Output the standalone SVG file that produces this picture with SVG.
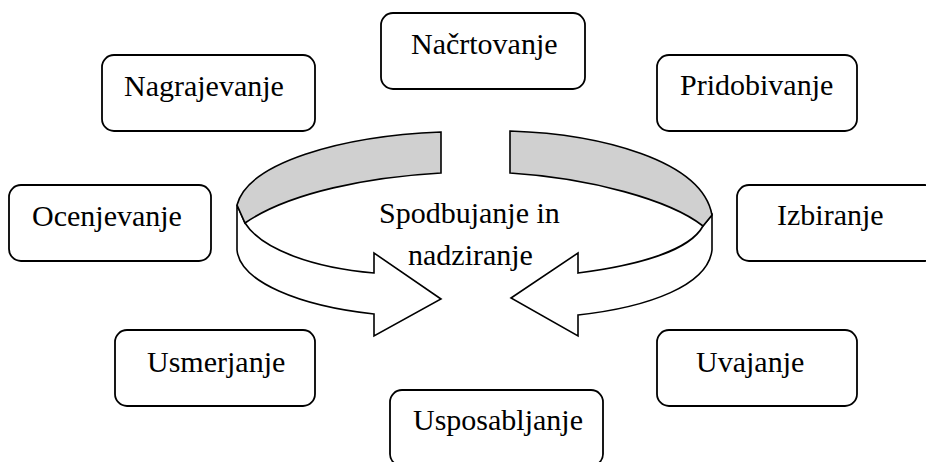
<svg xmlns="http://www.w3.org/2000/svg" width="926" height="462" viewBox="0 0 926 462">
<style>
.box{fill:#fff;stroke:#000;stroke-width:1.8}
.t{font-family:"Liberation Serif","Times New Roman",serif;font-size:30px;fill:#000}
.face{fill:#d0d0d0;stroke:#000;stroke-width:1.6;stroke-linejoin:miter}
.side{fill:#fff;stroke:#000;stroke-width:1.6;stroke-linejoin:miter}
</style>
<rect width="926" height="462" fill="#fff"/>
<g id="connectors">
<g id="arrow-left">
<path class="side" d="M237,205 L237,250 C240,282 300,306 374,314 L374,336 L441,299 L374,253 L374,273 C315,268 262,250 245,223 Z"/>
<path class="face" d="M441,132 C340,136 248,163 237,205 L245,223 C290,192 370,177 441,173 Z"/>
</g>
<g id="arrow-right">
<path class="side" d="M712,215 L712,250 C708,285 650,307 578,315 L578,336 L511,298 L578,253 L578,273 C640,265 690,250 703,226 Z"/>
<path class="face" d="M510,131 C600,134 702,160 712,215 L703,226 C670,200 590,178 510,173 Z"/>
</g>
</g>
<g id="center">
<text class="t" x="379" y="223">Spodbujanje in</text>
<text class="t" x="408" y="265">nadziranje</text>
</g>
<g id="nacrtovanje"><rect class="box" x="381" y="13" width="204" height="76" rx="12"/><text class="t" x="411" y="54">Načrtovanje</text></g>
<g id="nagrajevanje"><rect class="box" x="102" y="55" width="213" height="76" rx="12"/><text class="t" x="124" y="96">Nagrajevanje</text></g>
<g id="pridobivanje"><rect class="box" x="657" y="55" width="200" height="76" rx="12"/><text class="t" x="680" y="95">Pridobivanje</text></g>
<g id="ocenjevanje"><rect class="box" x="9" y="185" width="202" height="76" rx="12"/><text class="t" x="32" y="226">Ocenjevanje</text></g>
<g id="izbiranje"><rect class="box" x="737" y="185" width="200" height="76" rx="12"/><text class="t" x="777" y="225">Izbiranje</text></g>
<g id="usmerjanje"><rect class="box" x="115" y="330" width="200" height="76" rx="12"/><text class="t" x="147" y="372">Usmerjanje</text></g>
<g id="uvajanje"><rect class="box" x="657" y="330" width="200" height="76" rx="12"/><text class="t" x="696" y="372">Uvajanje</text></g>
<g id="usposabljanje"><rect class="box" x="390" y="390" width="213" height="76" rx="12"/><text class="t" x="413" y="430">Usposabljanje</text></g>
</svg>
